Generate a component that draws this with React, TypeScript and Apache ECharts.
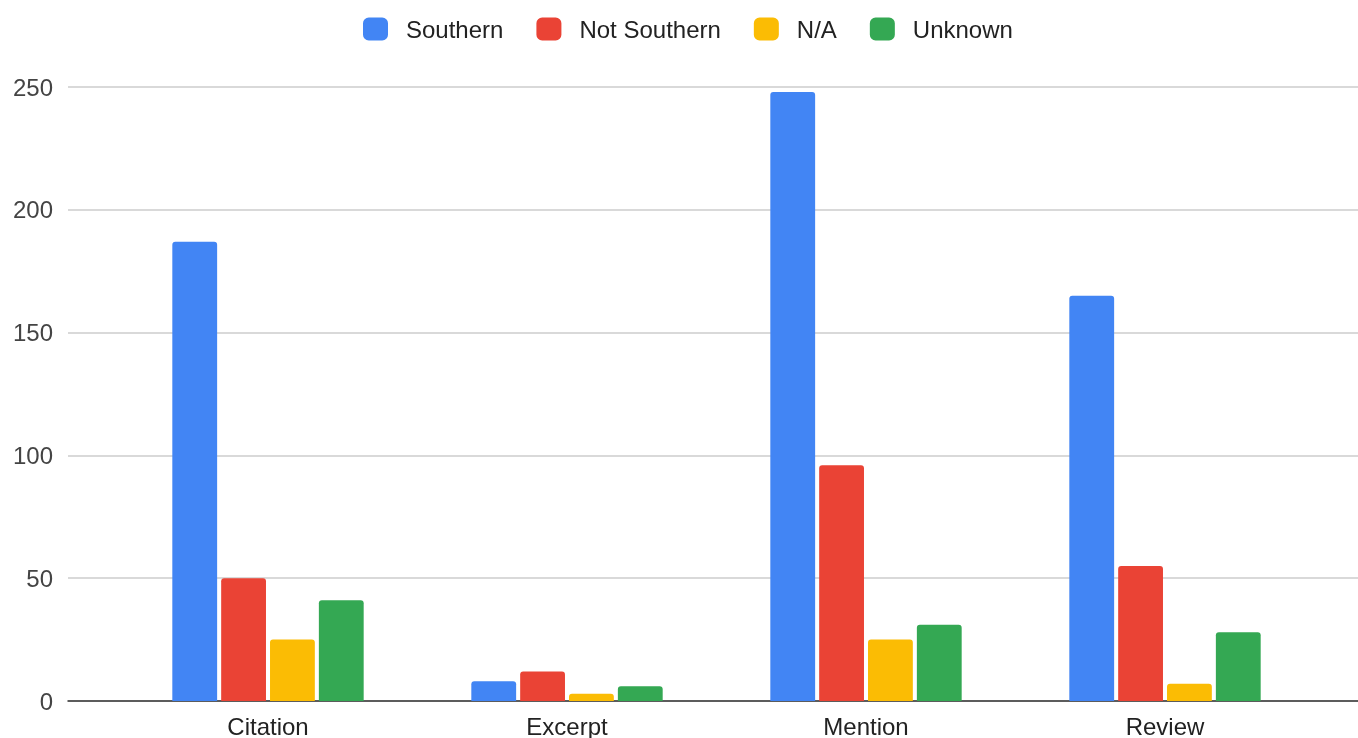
import React, { useEffect, useRef } from "react";
import * as echarts from "echarts";

const categories = ["Citation", "Excerpt", "Mention", "Review"];
const seriesNames = ["Southern", "Not Southern", "N/A", "Unknown"];
const southern = [187, 8, 248, 165];
const notSouthern = [50, 12, 96, 55];
const notApplicable = [25, 3, 25, 7];
const unknown = [41, 6, 31, 28];
const yTicks = [0, 50, 100, 150, 200, 250];
const colors = ["#4285F4", "#EA4335", "#FBBC04", "#34A853"];

const FONT = "'Liberation Sans', Arial, sans-serif";

export default function App() {
  const ref = useRef<HTMLDivElement>(null);

  useEffect(() => {
    if (!ref.current) return;
    const chart = echarts.init(ref.current, undefined, { renderer: "svg" });
    const values = [southern, notSouthern, notApplicable, unknown];
    const yMax = yTicks[yTicks.length - 1];
    chart.setOption({
      animation: false,
      color: colors,
      textStyle: { fontFamily: FONT },
      legend: {
        top: 17,
        left: 363,
        padding: 0,
        itemWidth: 25,
        itemHeight: 23,
        itemGap: 33,
        icon: "roundRect",
        textStyle: { fontSize: 24, color: "#222", fontFamily: FONT, padding: [0, 0, 0, 13] },
        data: seriesNames,
      },
      grid: [
        { left: 68, right: 0, top: 87, bottom: 37 },
        { left: 118.5, right: 43.5, top: 87, bottom: 37 },
      ],
      xAxis: [
        {
          type: "category",
          gridIndex: 0,
          data: categories,
          axisLine: { show: true, lineStyle: { color: "#333", width: 1.5 } },
          axisTick: { show: false },
          axisLabel: { show: false },
        },
        {
          type: "category",
          gridIndex: 1,
          data: categories,
          axisLine: { show: false },
          axisTick: { show: false },
          axisLabel: { fontSize: 24, color: "#222", margin: 13, fontFamily: FONT },
        },
      ],
      yAxis: [
        {
          type: "value",
          gridIndex: 0,
          min: 0,
          max: yMax,
          interval: 50,
          axisLine: { show: false },
          axisTick: { show: false },
          axisLabel: { fontSize: 24, color: "#444", margin: 15, fontFamily: FONT },
          splitLine: { lineStyle: { color: "#ccc", width: 1.5 } },
        },
        {
          type: "value",
          gridIndex: 1,
          min: 0,
          max: yMax,
          interval: 50,
          axisLine: { show: false },
          axisTick: { show: false },
          axisLabel: { show: false },
          splitLine: { show: false },
        },
      ],
      series: seriesNames.map((name, i) => ({
        name,
        type: "bar",
        xAxisIndex: 1,
        yAxisIndex: 1,
        data: values[i],
        barGap: "9%",
        barCategoryGap: "36%",
        itemStyle: { color: colors[i], borderRadius: [3, 3, 0, 0] },
        z: 3,
      })),
    });
    return () => chart.dispose();
  }, []);

  return (
    <div
      ref={ref}
      style={{ position: "fixed", left: 0, top: 0, width: 1358, height: 738 }}
    />
  );
}
